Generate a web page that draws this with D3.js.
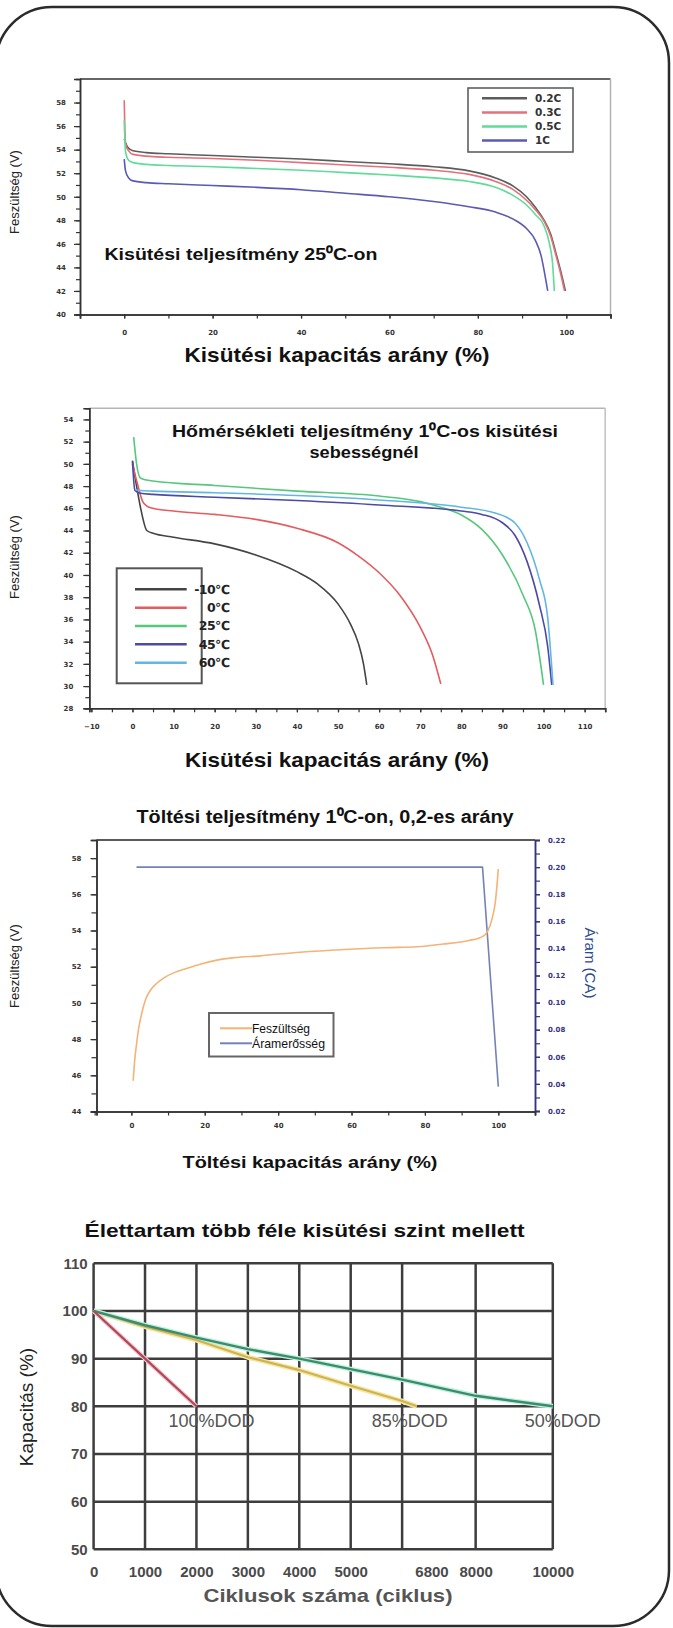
<!DOCTYPE html>
<html>
<head>
<meta charset="utf-8">
<script src="https://cdn.jsdelivr.net/npm/d3@7"></script>
<style>
  body { margin: 0; background: #fff; }
  svg { display: block; }
</style>
</head>
<body>
<svg id="chart"></svg>
<script>
// =====================
// Data
// =====================

// Chart 1 - discharge at 25 C: [capacity %, voltage V]
const dis02C = [[0,54.9],[0.8,54.2],[2,53.9],[5,53.75],[10,53.65],[20,53.5],[30,53.35],[40,53.2],[50,53.0],[60,52.8],[70,52.55],[78,52.2],[84,51.6],[88,50.9],[91,50.0],[93,49.1],[95,48.0],[96.5,46.8],[97.6,45.3],[98.8,43.6],[99.8,42]];
const dis03C = [[0,58.2],[0.3,54.5],[1,53.9],[2,53.6],[5,53.45],[10,53.35],[20,53.25],[30,53.1],[40,52.9],[50,52.7],[60,52.5],[70,52.25],[78,51.9],[84,51.3],[88,50.6],[91,49.7],[93,48.9],[95,47.9],[96.5,46.6],[97.6,45.1],[98.7,43.5],[99.6,42]];
const dis05C = [[0,56.5],[0.3,53.8],[1,53.1],[2,52.9],[5,52.75],[10,52.65],[20,52.55],[30,52.4],[40,52.25],[50,52.05],[60,51.85],[70,51.6],[78,51.3],[84,50.8],[88,50.1],[91,49.3],[93,48.5],[95,47.5],[96.2,46.0],[96.9,44.3],[97.3,42]];
const dis1C  = [[0,53.2],[0.3,52.2],[1,51.6],[2,51.35],[5,51.2],[10,51.1],[20,50.95],[30,50.8],[40,50.6],[50,50.3],[60,50.0],[70,49.6],[78,49.15],[84,48.7],[88,48.1],[91,47.3],[93,46.3],[94.3,45.0],[95.1,43.5],[95.8,42]];
const rateNames = ['0.2C', '0.3C', '0.5C', '1C'];
const volt1Ticks = [40,42,44,46,48,50,52,54,56,58];
const cap1Ticks = [0,20,40,60,80,100];

// Chart 2 - discharge at 1C, different temperatures
const tempM10 = [[0,50.3],[1,48],[2,46],[3.5,44],[5,43.75],[10,43.4],[20,42.8],[30,41.8],[40,40.3],[45,39.2],[50,37.4],[53,35.6],[55,33.8],[56.2,32],[57,30.1]];
const temp0   = [[0,50],[1,48.5],[2.5,46.6],[3.5,46.2],[5,46],[10,45.75],[20,45.45],[30,45],[40,44.2],[50,42.9],[55,41.7],[60,40.2],[65,38.2],[70,35.3],[73,32.8],[75,30.2]];
const temp25  = [[0.3,52.4],[1,50],[2,48.7],[5,48.45],[20,48.05],[40,47.55],[60,47.1],[70,46.6],[75,46.1],[80,45.4],[85,44.1],[90,41.8],[95,38.2],[98,35],[100,30.1]];
const temp45  = [[0,50.2],[0.6,47.6],[2,47.35],[5,47.25],[20,47.0],[40,46.7],[60,46.3],[80,45.75],[85,45.45],[90,44.7],[93,43.6],[96,41.2],[99,37.3],[101,33.6],[102,30.1]];
const temp60  = [[0.6,47.7],[2,47.6],[5,47.55],[20,47.4],[40,47.15],[60,46.75],[80,46.1],[88,45.6],[91,45.2],[93,44.7],[96,42.9],[99,39.6],[101,36.2],[102.3,30.1]];
const tempNames = ['-10℃', '0℃', '25℃', '45℃', '60℃'];
const volt2Ticks = [28,30,32,34,36,38,40,42,44,46,48,50,52,54];
const cap2Ticks = [-10,0,10,20,30,40,50,60,70,80,90,100,110];

// Chart 3 - charging at 0.2 rate: [capacity %, voltage V] and [capacity %, current CA]
const chgVoltage = [[0.5,45.7],[0.9,46.8],[1.4,47.7],[2,48.6],[2.8,49.4],[3.9,50.2],[5.2,50.7],[7,51.1],[9,51.4],[12,51.7],[15,51.9],[19,52.15],[23,52.35],[28,52.5],[35,52.6],[46,52.8],[58,52.95],[69,53.05],[78,53.1],[85,53.25],[92,53.45],[95,53.6],[96.6,53.8],[97.8,54.3],[98.6,54.9],[99.2,55.6],[99.6,56.4],[100,57.4]];
const chgCurrent = [[1.4,0.20],[95.7,0.20],[100,0.038]];
const chgNames = ['Feszültség', 'Áramerősség'];
const volt3Ticks = [44,46,48,50,52,54,56,58];
const amp3Ticks = [0.02,0.04,0.06,0.08,0.10,0.12,0.14,0.16,0.18,0.20,0.22];
const cap3Ticks = [0,20,40,60,80,100];

// Chart 4 - cycle life: [cycles, capacity %]
const dod100 = [[0,100],[1000,90],[2000,80]];
const dod85  = [[0,100],[1000,96.7],[2000,93.9],[3000,90.3],[4000,87.6],[5000,84.3],[6000,81.1],[6400,80]];
const dod50  = [[0,100],[1000,97],[2000,94.4],[3000,92],[4000,90],[5000,87.8],[6000,85.6],[8000,82.2],[10000,80]];
const dodNames = ['100%DOD', '85%DOD', '50%DOD'];
const cycleGrid = [0,1000,2000,3000,4000,5000,6000,8000,10000];     // vertical grid lines
const cycleLabels = [0,1000,2000,3000,4000,5000,6800,8000,10000];   // printed tick labels
const capTicks = [50,60,70,80,90,100,110];

// =====================
// Page setup
// =====================
const W = 673, H = 1628;
const FONT = "'Liberation Sans', Arial, sans-serif";
const FONT_NARROW = "'Liberation Sans Narrow', 'Liberation Sans', Arial, sans-serif";
const FONT_TICK = "'DejaVu Sans', sans-serif";

const svg = d3.select('#chart').attr('width', W).attr('height', H);

// Rounded frame round the whole sheet
svg.append('rect')
  .attr('x', -4).attr('y', 7)
  .attr('width', 673).attr('height', 1619)
  .attr('rx', 56)
  .attr('fill', 'none')
  .attr('stroke', '#2b2b2b')
  .attr('stroke-width', 2.5);

// =====================
// Helpers
// =====================
function boldTitle(x, y, txt, size, len, color) {
  return svg.append('text')
    .attr('x', x).attr('y', y)
    .attr('text-anchor', 'middle')
    .attr('font-family', FONT_NARROW)
    .attr('font-weight', 'bold')
    .attr('font-size', size)
    .attr('fill', color || '#111')
    .attr('textLength', len)
    .attr('lengthAdjust', 'spacingAndGlyphs')
    .text(txt);
}

function sideLabel(x, y, txt, size, angle, color) {
  svg.append('text')
    .attr('transform', 'translate(' + x + ',' + y + ') rotate(' + angle + ')')
    .attr('text-anchor', 'middle')
    .attr('dy', '0.35em')
    .attr('font-family', FONT)
    .attr('font-size', size)
    .attr('fill', color || '#222')
    .text(txt);
}

function styleAxis(g, color, width, fontSize) {
  g.select('.domain').attr('stroke', color).attr('stroke-width', width);
  g.selectAll('.tick line').attr('stroke', color).attr('stroke-width', width * 0.8);
  g.selectAll('.tick text')
    .attr('fill', color)
    .attr('font-family', FONT_TICK)
    .attr('font-weight', 'bold')
    .attr('font-size', fontSize || 7);
}

// minor ticks (no labels) + major ticks (labels)
function addAxis(axisFn, scale, pos, major, minor, fmt, opt) {
  const horiz = (axisFn === d3.axisBottom);
  const tr = horiz ? 'translate(0,' + pos + ')' : 'translate(' + pos + ',0)';
  if (minor) {
    svg.append('g').attr('transform', tr)
      .call(axisFn(scale).tickValues(minor).tickSize(opt.minorSize).tickFormat(''))
      .call(g => styleAxis(g, opt.color, opt.width));
  }
  svg.append('g').attr('transform', tr)
    .call(axisFn(scale).tickValues(major).tickSize(opt.majorSize).tickPadding(opt.pad).tickFormat(fmt))
    .call(g => styleAxis(g, opt.color, opt.width, opt.fontSize));
}

function frameLine(x0, y0, x1, y1, color, width) {
  svg.append('line')
    .attr('x1', x0).attr('y1', y0).attr('x2', x1).attr('y2', y1)
    .attr('stroke', color).attr('stroke-width', width);
}

function drawSeries(data, line, color, width) {
  svg.append('path')
    .datum(data)
    .attr('d', line)
    .attr('fill', 'none')
    .attr('stroke', color)
    .attr('stroke-width', width)
    .attr('stroke-linejoin', 'round');
}

// =====================
// Chart 1 - Kisütési teljesítmény 25°C-on
// =====================
const x1 = d3.scaleLinear([-10, 110], [80, 610.5]);
const y1 = d3.scaleLinear([40, 60], [314.5, 79]);
const line1 = d3.line().x(d => x1(d[0])).y(d => y1(d[1])).curve(d3.curveMonotoneX);
const rateColors = ['#5c5c5c', '#e5707a', '#5fdc98', '#5a5ab4'];

frameLine(x1.range()[0], y1.range()[1], x1.range()[1], y1.range()[1], '#666', 2);
frameLine(x1.range()[1], y1.range()[1], x1.range()[1], y1.range()[0], '#b0b0b0', 1.5);

addAxis(d3.axisLeft, y1, x1.range()[0], volt1Ticks, d3.range(40, 60, 1), d3.format('d'),
  {color: '#333', width: 1.5, minorSize: 4, majorSize: 6, pad: 8});
addAxis(d3.axisBottom, x1, y1.range()[0], cap1Ticks, d3.range(-10, 111, 10), d3.format('d'),
  {color: '#333', width: 1.5, minorSize: 4, majorSize: 4, pad: 12});

[dis02C, dis03C, dis05C, dis1C].forEach((d, i) => drawSeries(d, line1, rateColors[i], 1.6));

// legend
const leg1 = svg.append('g');
leg1.append('rect').attr('x', 468).attr('y', 88).attr('width', 105).attr('height', 64)
  .attr('fill', '#fff').attr('stroke', '#555').attr('stroke-width', 1.5);
rateNames.forEach((n, i) => {
  const yy = 98.3 + i * 14.1;
  leg1.append('line').attr('x1', 482).attr('x2', 527).attr('y1', yy).attr('y2', yy)
    .attr('stroke', rateColors[i]).attr('stroke-width', 2.5);
  leg1.append('text').attr('x', 535).attr('y', yy).attr('dy', '0.35em')
    .attr('font-family', FONT_TICK).attr('font-weight', 'bold').attr('font-size', 10.5)
    .attr('fill', '#333').text(n);
});

boldTitle(241, 260, 'Kisütési teljesítmény 25⁰C-on', 17, 273);
boldTitle(337, 362, 'Kisütési kapacitás arány (%)', 21, 305);
sideLabel(14, 192, 'Feszültség (V)', 13, -90);

// =====================
// Chart 2 - Hőmérsékleti teljesítmény 1°C-os kisütési sebességnél
// =====================
const x2 = d3.scaleLinear([-10.5, 115], [89.3, 605.2]);
const y2 = d3.scaleLinear([28, 55], [708.3, 408.3]);
const line2 = d3.line().x(d => x2(d[0])).y(d => y2(d[1])).curve(d3.curveMonotoneX);
const tempColors = ['#444444', '#e35c5f', '#55c87c', '#4a4aa8', '#62b6e4'];

frameLine(x2.range()[0], y2.range()[1], x2.range()[1], y2.range()[1], '#b5b5b5', 1.5);
frameLine(x2.range()[1], y2.range()[1], x2.range()[1], y2.range()[0], '#c0c0c0', 1.5);

addAxis(d3.axisLeft, y2, x2.range()[0], volt2Ticks, d3.range(28, 55, 1), d3.format('d'),
  {color: '#333', width: 1.5, minorSize: 4, majorSize: 6, pad: 10});
addAxis(d3.axisBottom, x2, y2.range()[0], cap2Ticks, d3.range(-10, 111, 5), d3.format('d'),
  {color: '#333', width: 1.5, minorSize: 4, majorSize: 4, pad: 12});

[tempM10, temp0, temp25, temp45, temp60].forEach((d, i) => drawSeries(d, line2, tempColors[i], 1.6));

const leg2 = svg.append('g');
leg2.append('rect').attr('x', 116.7).attr('y', 568.3).attr('width', 85).attr('height', 115)
  .attr('fill', '#fff').attr('stroke', '#555').attr('stroke-width', 2);
tempNames.forEach((n, i) => {
  const yy = 589.3 + i * 18.35;
  leg2.append('line').attr('x1', 135).attr('x2', 186.7).attr('y1', yy).attr('y2', yy)
    .attr('stroke', tempColors[i]).attr('stroke-width', 2.5);
  leg2.append('text').attr('x', 229.6).attr('y', yy).attr('dy', '0.35em')
    .attr('text-anchor', 'end')
    .attr('font-family', FONT_TICK).attr('font-weight', 'bold').attr('font-size', 12.5)
    .attr('letter-spacing', -0.6)
    .attr('fill', '#222').text(n);
});

boldTitle(365, 437, 'Hőmérsékleti teljesítmény 1⁰C-os kisütési', 17, 386);
boldTitle(364, 458, 'sebességnél', 17, 109);
boldTitle(337, 767, 'Kisütési kapacitás arány (%)', 21, 304);
sideLabel(14, 557, 'Feszültség (V)', 13, -90);

// =====================
// Chart 3 - Töltési teljesítmény
// =====================
const x3 = d3.scaleLinear([-9.5, 110], [96.5, 535]);
const y3 = d3.scaleLinear([44, 59], [1111.5, 840]);
const y3r = d3.scaleLinear([0.02, 0.22], [1111, 840]);
const voltLine = d3.line().x(d => x3(d[0])).y(d => y3(d[1])).curve(d3.curveMonotoneX);
const ampLine = d3.line().x(d => x3(d[0])).y(d => y3r(d[1]));
const chgColors = ['#f2b477', '#7482b8'];
const navy = '#34347e';

frameLine(x3.range()[0], y3.range()[1], x3.range()[1], y3.range()[1], '#5a5a5a', 2);

addAxis(d3.axisLeft, y3, x3.range()[0], volt3Ticks, d3.range(44, 59, 1), d3.format('d'),
  {color: '#333', width: 1.5, minorSize: 5, majorSize: 6, pad: 9});
addAxis(d3.axisRight, y3r, x3.range()[1], amp3Ticks, d3.range(0.02, 0.225, 0.01), d3.format('.2f'),
  {color: navy, width: 1.5, minorSize: 5, majorSize: 5, pad: 8});
addAxis(d3.axisBottom, x3, y3.range()[0], cap3Ticks, d3.range(-10, 111, 10), d3.format('d'),
  {color: '#333', width: 1.5, minorSize: 4, majorSize: 4, pad: 8});

drawSeries(chgCurrent, ampLine, chgColors[1], 1.6);
drawSeries(chgVoltage, voltLine, chgColors[0], 1.6);

const leg3 = svg.append('g');
leg3.append('rect').attr('x', 209).attr('y', 1013).attr('width', 124.5).attr('height', 43.5)
  .attr('fill', '#fff').attr('stroke', '#666').attr('stroke-width', 2);
chgNames.forEach((n, i) => {
  const yy = 1028.3 + i * 15;
  leg3.append('line').attr('x1', 220).attr('x2', 252).attr('y1', yy).attr('y2', yy)
    .attr('stroke', chgColors[i]).attr('stroke-width', 2);
  leg3.append('text').attr('x', 252).attr('y', yy).attr('dy', '0.35em')
    .attr('font-family', FONT_NARROW).attr('font-size', 13)
    .attr('textLength', i === 0 ? 58 : 73).attr('lengthAdjust', 'spacingAndGlyphs')
    .attr('fill', '#111').text(n);
});

boldTitle(325, 823, 'Töltési teljesítmény 1⁰C-on, 0,2-es arány', 18, 377);
boldTitle(310, 1168, 'Töltési kapacitás arány (%)', 17, 255);
sideLabel(14, 966, 'Feszültség (V)', 13, -90);
sideLabel(590, 963, 'Áram (CA)', 15, 90, '#2c4a8c');

// =====================
// Chart 4 - Élettartam
// =====================
// grid is not evenly spaced in the picture: piecewise scale in grid units
const gridUnit = 51.42, gridLeft = 93.6;
const gridSteps = [0, 1, 2, 3, 4, 5, 6, 7.43, 8.93];
const x4 = d3.scaleLinear(cycleGrid, gridSteps.map(s => gridLeft + s * gridUnit));
const y4 = d3.scaleLinear([50, 110], [1549.3, 1263.3]);
const line4 = d3.line().x(d => x4(d[0])).y(d => y4(d[1]));

const grid = svg.append('g').attr('stroke', '#3d3d3d').attr('stroke-width', 2.5);
grid.selectAll('.vgrid').data(cycleGrid).enter().append('line')
  .attr('x1', d => x4(d)).attr('x2', d => x4(d))
  .attr('y1', y4(110)).attr('y2', y4(50));
grid.selectAll('.hgrid').data(capTicks).enter().append('line')
  .attr('x1', x4(0)).attr('x2', x4(10000))
  .attr('y1', d => y4(d)).attr('y2', d => y4(d));

// halos then lines
drawSeries(dod85, line4, '#f6e7a6', 5);
drawSeries(dod50, line4, '#bdf2dc', 5);
drawSeries(dod100, line4, '#f4c6cd', 4.5);
drawSeries(dod85, line4, '#cdb451', 2.2);
drawSeries(dod50, line4, '#3d8a6c', 2.4);
drawSeries(dod100, line4, '#b0485a', 2.2);

const yAx4 = svg.append('g').attr('transform', 'translate(' + gridLeft + ',0)')
  .call(d3.axisLeft(y4).tickValues(capTicks).tickSize(0).tickPadding(6));
yAx4.select('.domain').remove();
yAx4.selectAll('text').attr('font-family', FONT).attr('font-weight', 'bold')
  .attr('font-size', 15).attr('fill', '#4a4a4a');

const xAx4 = svg.append('g').attr('transform', 'translate(0,' + y4(50) + ')')
  .call(d3.axisBottom(x4).tickValues(cycleLabels).tickFormat(d3.format('d')).tickSize(0).tickPadding(17));
xAx4.select('.domain').remove();
xAx4.selectAll('text').attr('font-family', FONT).attr('font-weight', 'bold')
  .attr('font-size', 15).attr('fill', '#4a4a4a');

// DOD labels next to where each line ends
const dodEnds = [dod100, dod85, dod50].map(d => d[d.length - 1]);
const dodShift = [15, -7, 10];
dodNames.forEach((n, i) => {
  svg.append('text')
    .attr('x', x4(dodEnds[i][0]) + dodShift[i])
    .attr('y', y4(dodEnds[i][1]) + 21)
    .attr('text-anchor', 'middle')
    .attr('font-family', FONT)
    .attr('font-size', 18)
    .attr('fill', '#555')
    .text(n);
});

boldTitle(304.5, 1237, 'Élettartam több féle kisütési szint mellett', 19, 440);
boldTitle(328, 1602, 'Ciklusok száma (ciklus)', 19, 249, '#555');
sideLabel(26, 1407, 'Kapacitás (%)', 19, -90);
</script>
</body>
</html>
